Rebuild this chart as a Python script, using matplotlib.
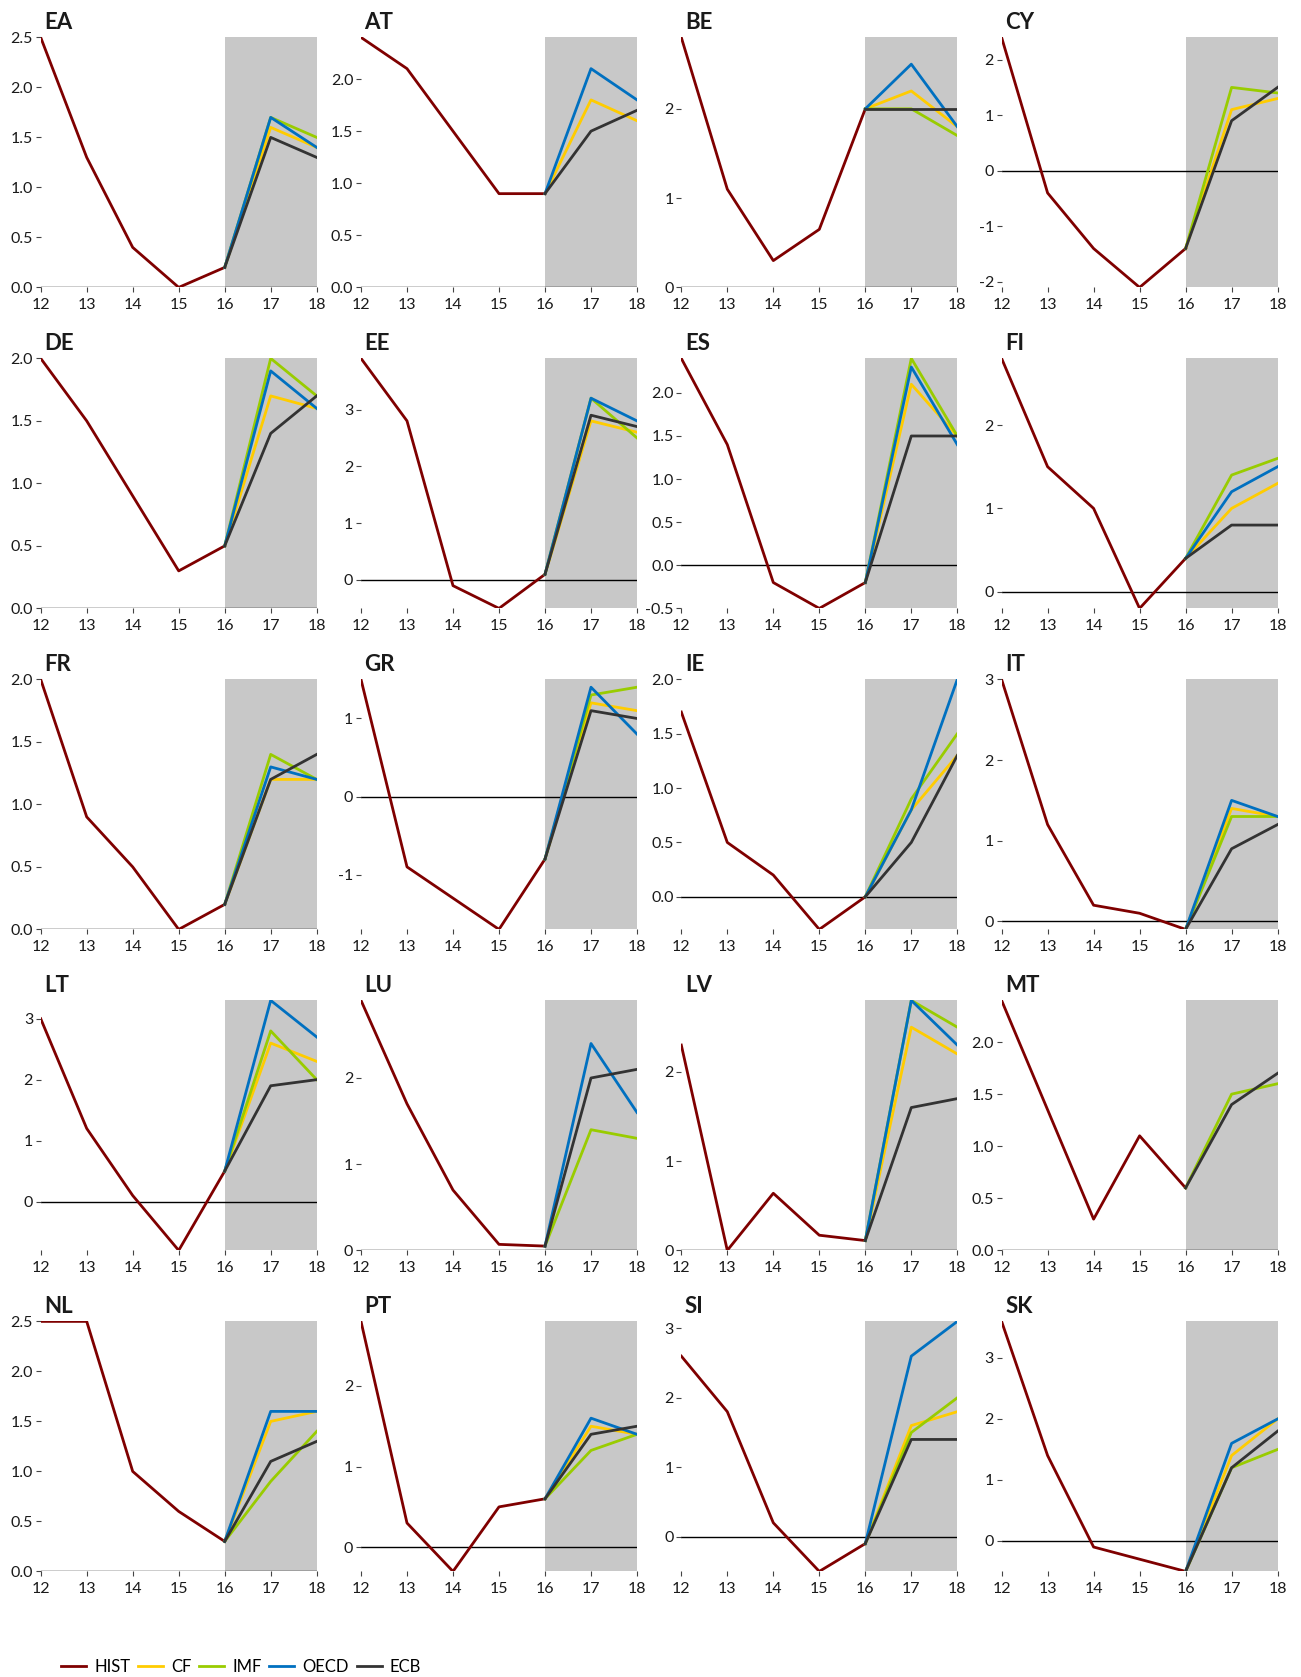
import numpy as np
import matplotlib.pyplot as plt
from matplotlib.ticker import MultipleLocator, FormatStrFormatter
from matplotlib.lines import Line2D

plt.rcParams['font.family'] = ['Lato', 'DejaVu Sans']
plt.rcParams['axes.unicode_minus'] = False

nan = np.nan

countries = ['EA', 'AT', 'BE', 'CY', 'DE', 'EE', 'ES', 'FI', 'FR', 'GR',
             'IE', 'IT', 'LT', 'LU', 'LV', 'MT', 'NL', 'PT', 'SI', 'SK']
hist_years = [12, 13, 14, 15, 16]
fc_years = [16, 17, 18]

# realised values 2012-2016
hist = [
    [2.5, 1.3, 0.4, 0.0, 0.2],     # EA
    [2.4, 2.1, 1.5, 0.9, 0.9],     # AT
    [2.8, 1.1, 0.3, 0.65, 2.0],    # BE
    [2.4, -0.4, -1.4, -2.1, -1.4], # CY
    [2.0, 1.5, 0.9, 0.3, 0.5],     # DE
    [3.9, 2.8, -0.1, -0.5, 0.1],   # EE
    [2.4, 1.4, -0.2, -0.5, -0.2],  # ES
    [2.8, 1.5, 1.0, -0.2, 0.4],    # FI
    [2.0, 0.9, 0.5, 0.0, 0.2],     # FR
    [1.5, -0.9, -1.3, -1.7, -0.8], # GR
    [1.7, 0.5, 0.2, -0.3, 0.0],    # IE
    [3.0, 1.2, 0.2, 0.1, -0.1],    # IT
    [3.0, 1.2, 0.1, -0.8, 0.5],    # LT
    [2.9, 1.7, 0.7, 0.07, 0.05],   # LU
    [2.3, 0.0, 0.64, 0.17, 0.11],  # LV
    [2.4, 1.35, 0.3, 1.1, 0.6],    # MT
    [2.5, 2.5, 1.0, 0.6, 0.3],     # NL
    [2.8, 0.3, -0.3, 0.5, 0.6],    # PT
    [2.6, 1.8, 0.2, -0.5, -0.1],   # SI
    [3.6, 1.4, -0.1, -0.3, -0.5],  # SK
]

# forecasts for 2017, 2018
cf = [[1.6, 1.4], [1.8, 1.6], [2.2, 1.8], [1.1, 1.3], [1.7, 1.6],
      [2.8, 2.6], [2.1, 1.5], [1.0, 1.3], [1.2, 1.2], [1.2, 1.1],
      [0.8, 1.3], [1.4, 1.3], [2.6, 2.3], [nan, nan], [2.5, 2.2],
      [nan, nan], [1.5, 1.6], [1.5, 1.4], [1.6, 1.8], [1.4, 2.0]]
imf = [[1.7, 1.5], [nan, nan], [2.0, 1.7], [1.5, 1.4], [2.0, 1.7],
       [3.2, 2.5], [2.4, 1.5], [1.4, 1.6], [1.4, 1.2], [1.3, 1.4],
       [0.9, 1.5], [1.3, 1.3], [2.8, 2.0], [1.4, 1.3], [2.8, 2.5],
       [1.5, 1.6], [0.9, 1.4], [1.2, 1.4], [1.5, 2.0], [1.2, 1.5]]
oecd = [[1.7, 1.4], [2.1, 1.8], [2.5, 1.8], [nan, nan], [1.9, 1.6],
        [3.2, 2.8], [2.3, 1.4], [1.2, 1.5], [1.3, 1.2], [1.4, 0.8],
        [0.8, 2.0], [1.5, 1.3], [3.3, 2.7], [2.4, 1.6], [2.8, 2.3],
        [nan, nan], [1.6, 1.6], [1.6, 1.4], [2.6, 3.1], [1.6, 2.0]]
ecb = [[1.5, 1.3], [1.5, 1.7], [2.0, 2.0], [0.9, 1.5], [1.4, 1.7],
       [2.9, 2.7], [1.5, 1.5], [0.8, 0.8], [1.2, 1.4], [1.1, 1.0],
       [0.5, 1.3], [0.9, 1.2], [1.9, 2.0], [2.0, 2.1], [1.6, 1.7],
       [1.4, 1.7], [1.1, 1.3], [1.4, 1.5], [1.4, 1.4], [1.2, 1.8]]

y_step = [0.5, 0.5, 1, 1, 0.5, 1, 0.5, 1, 0.5, 1,
          0.5, 1, 1, 1, 1, 0.5, 0.5, 1, 1, 1]

series_names = ['CF', 'IMF', 'OECD', 'ECB']
series_data = [cf, imf, oecd, ecb]
colors = {'HIST': '#7f0000', 'CF': '#ffcc00', 'IMF': '#99cc00',
          'OECD': '#0070c0', 'ECB': '#333333'}

W, H = 1301, 1677
fig = plt.figure(figsize=(W / 100, H / 100), dpi=100)

ax_w, ax_h = 276, 250
for i, c in enumerate(countries):
    row, col = divmod(i, 4)
    left = 40.7 + 320.3 * col
    top = 37.4 + 321 * row
    ax = fig.add_axes([left / W, 1 - (top + ax_h) / H, ax_w / W, ax_h / H])

    allv = np.array(hist[i] + [v for s in series_data for v in s[i]], dtype=float)
    lo, hi = min(0, np.nanmin(allv)), np.nanmax(allv)

    ax.axvspan(16, 18, color='#c8c8c8', lw=0, zorder=0)
    ax.axhline(0, color='black', lw=1.0, zorder=1)
    ax.plot(hist_years, hist[i], color=colors['HIST'], lw=2, zorder=3)
    for name, s in zip(series_names, series_data):
        ax.plot(fc_years, [hist[i][-1]] + s[i], color=colors[name], lw=2, zorder=3)

    ax.set_xlim(12, 18)
    ax.set_ylim(lo, hi)
    ax.set_xticks(range(12, 19))
    ax.yaxis.set_major_locator(MultipleLocator(y_step[i]))
    ax.yaxis.set_major_formatter(FormatStrFormatter('%.1f' if y_step[i] < 1 else '%d'))
    for sp in ax.spines.values():
        sp.set_visible(False)
    ax.set_facecolor('none')
    ax.tick_params(axis='both', length=3.5, width=0.8, color='#444444',
                   labelsize=11.5, labelcolor='#1a1a1a', pad=2)
    ax.tick_params(axis='x', pad=4)
    ax.annotate(c, xy=(0, 1), xycoords='axes fraction', xytext=(2.5, 6),
                textcoords='offset points', fontsize=16, fontweight='bold',
                color='#1a1a1a', va='baseline', ha='left')

handles = [Line2D([], [], color=colors[n], lw=2) for n in ['HIST'] + series_names]
fig.legend(handles, ['HIST'] + series_names, loc='center left',
           bbox_to_anchor=(61 / W, 10 / H), ncol=5, frameon=False,
           fontsize=12, handlelength=1.5, handletextpad=0.5,
           columnspacing=0.45, borderpad=0, borderaxespad=0)

fig.savefig('out.png', dpi=100)
